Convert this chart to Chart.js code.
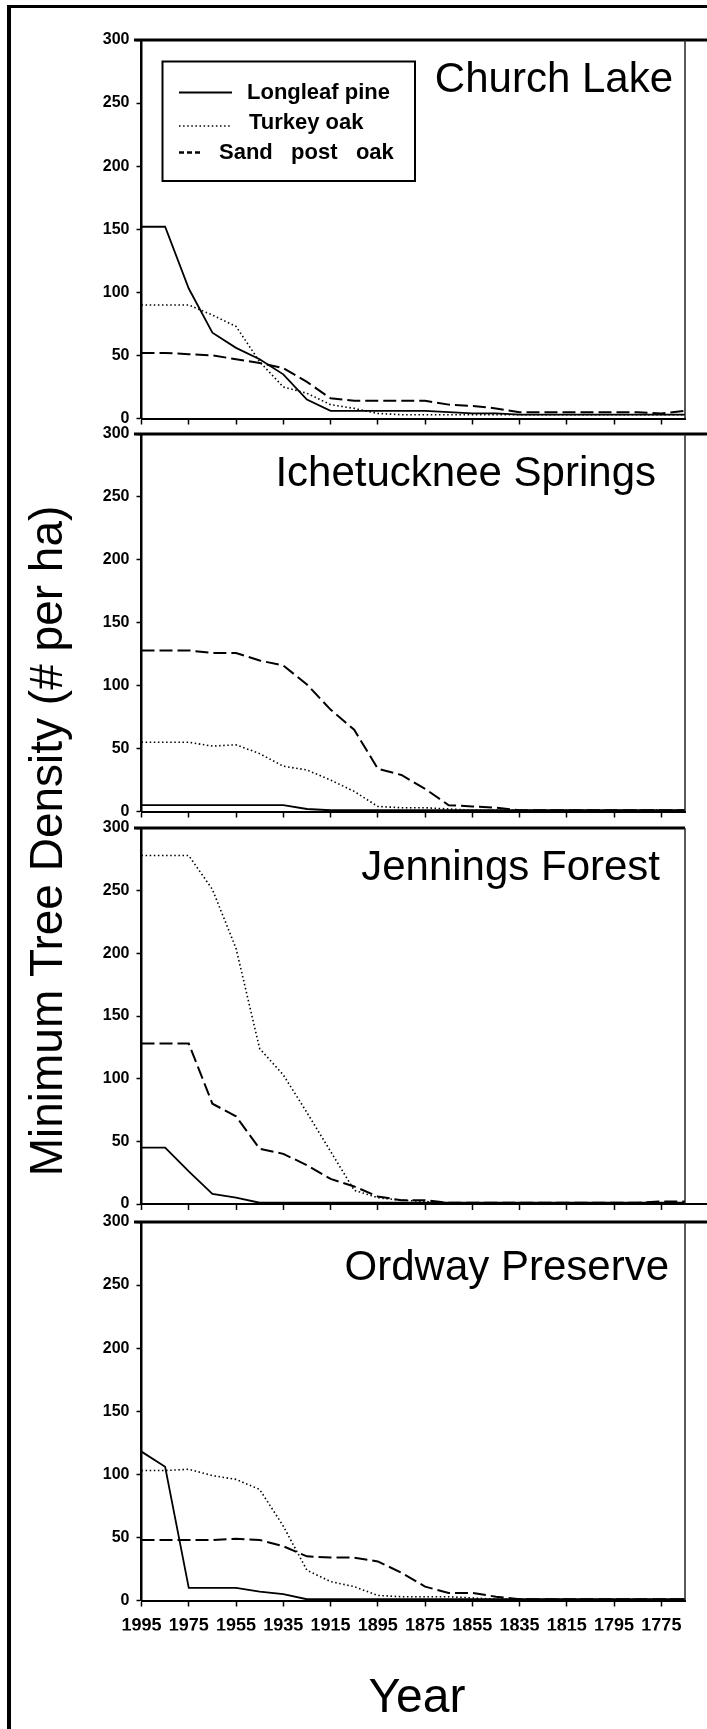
<!DOCTYPE html>
<html>
<head>
<meta charset="utf-8">
<script src="https://cdn.jsdelivr.net/npm/chart.js@4.4.0/dist/chart.umd.min.js"></script>
<style>
html,body{margin:0;padding:0;background:#fff;}
#page{position:relative;width:707px;height:1729px;overflow:hidden;background:#fff;}
#page canvas{position:absolute;left:0;top:0;}
#frameL{position:absolute;left:7px;top:5px;width:3.5px;height:1724px;background:#000;}
#frameT{position:absolute;left:7px;top:5px;width:700px;height:3px;background:#000;}
</style>
</head>
<body>
<div id="page">
<div id="frameL"></div><div id="frameT"></div>
<canvas id="c0" width="707" height="1729"></canvas>
<canvas id="c1" width="707" height="1729"></canvas>
<canvas id="c2" width="707" height="1729"></canvas>
<canvas id="c3" width="707" height="1729"></canvas>
</div>
<script>
// ---- DATA ----
const years = ['1995','1985','1975','1965','1955','1945','1935','1925','1915','1905','1895','1885',
               '1875','1865','1855','1845','1835','1825','1815','1805','1795','1785','1775','1765'];
const xTickLabels = ['1995','1975','1955','1935','1915','1895','1875','1855','1835','1815','1795','1775'];
const yTicks = [0,50,100,150,200,250,300];
const seriesNames = ['Longleaf pine','Turkey oak','Sand post oak'];
const siteNames = ['Church Lake','Ichetucknee Springs','Jennings Forest','Ordway Preserve'];

const churchLongleaf = [152,152,103,68,56,47,35,15,6,6,6,6,6,5,4,4,3,3,3,3,3,3,3,3];
const churchTurkey   = [90,90,90,82,73,45,25,20,11,8,4,3,3,3,3,3,3,3,3,3,3,3,3,3];
const churchSand     = [52,52,51,50,47,44,40,29,16,14,14,14,14,11,10,8,5,5,5,5,5,5,4,6];

const ichLongleaf = [5,5,5,5,5,5,5,2,1,1,1,1,1,1,1,1,1,1,1,1,1,1,1,1];
const ichTurkey   = [55,55,55,52,53,46,36,33,25,16,4,3,3,2,1,1,1,1,1,1,1,1,1,1];
const ichSand     = [128,128,128,126,126,120,116,101,81,65,34,29,18,5,4,3,1,1,1,1,1,1,1,1];

const jenLongleaf = [45,45,26,8,5,1,1,1,1,1,1,1,1,1,1,1,1,1,1,1,1,1,1,1];
const jenTurkey   = [278,278,278,251,204,124,103,73,42,11,5,3,2,1,1,1,1,1,1,1,1,1,1,1];
const jenSand     = [128,128,128,80,70,44,40,31,20,14,6,3,3,1,1,1,1,1,1,1,1,1,2,2];

const ordLongleaf = [118,106,10,10,10,7,5,1,1,1,1,1,1,1,1,1,1,1,1,1,1,1,1,1];
const ordTurkey   = [103,103,104,99,96,88,59,24,15,11,4,3,3,3,2,1,1,1,1,1,1,1,1,1];
const ordSand     = [48,48,48,48,49,48,43,35,34,34,31,22,11,6,6,3,1,1,1,1,1,1,1,1];

const siteData = [
  [churchLongleaf, churchTurkey, churchSand],
  [ichLongleaf, ichTurkey, ichSand],
  [jenLongleaf, jenTurkey, jenSand],
  [ordLongleaf, ordTurkey, ordSand]
];

// ---- LAYOUT ----
const W = 707, H = 1729;
const FONT = "'Liberation Sans', Arial, Helvetica, sans-serif";
const panels = [
  {top:40,  bottom:418.5,  titleRight:673, titleBase:92,   topExtRight:707, bottomExt:false, labels:false},
  {top:434, bottom:811.5,  titleRight:656, titleBase:486,  topExtRight:707, bottomExt:false, labels:false},
  {top:828, bottom:1204,   titleRight:660, titleBase:880,  topExtRight:685, bottomExt:true,  labels:false},
  {top:1222,bottom:1600.5, titleRight:669, titleBase:1280, topExtRight:707, bottomExt:false, labels:true}
];
const styles = [
  {borderWidth:1.8, borderDash:[]},
  {borderWidth:1.6, borderDash:[1.5,2.6]},
  {borderWidth:2,   borderDash:[13,5]}
];

function framePlugin(pi){
  const P = panels[pi];
  return {
    id:'frame'+pi,
    afterDraw(chart){
      const ctx = chart.ctx, a = chart.chartArea;
      ctx.save();
      ctx.strokeStyle = '#000';
      ctx.setLineDash([]);
      ctx.lineWidth = 3;
      ctx.beginPath(); ctx.moveTo(134, a.top); ctx.lineTo(P.topExtRight, a.top); ctx.stroke();
      ctx.lineWidth = 1.5; ctx.strokeStyle = '#222';
      ctx.beginPath(); ctx.moveTo(a.right, a.top); ctx.lineTo(a.right, a.bottom); ctx.stroke();
      if (P.bottomExt){
        ctx.strokeStyle = '#000'; ctx.lineWidth = 2;
        ctx.beginPath(); ctx.moveTo(a.right, a.bottom); ctx.lineTo(W, a.bottom); ctx.stroke();
      }
      ctx.fillStyle = '#000';
      ctx.font = '42px ' + FONT;
      ctx.textAlign = 'right'; ctx.textBaseline = 'alphabetic';
      ctx.fillText(siteNames[pi], P.titleRight, P.titleBase);

      if (pi === 0){
        ctx.strokeStyle = '#000'; ctx.lineWidth = 2;
        ctx.strokeRect(162.5, 61.5, 252.5, 119.5);
        const rows = [
          {y:92.5, x1:179, x2:232, tx:247, tb:99},
          {y:126,  x1:179, x2:230, tx:249, tb:128.5},
          {y:152.5,x1:179, x2:200, tx:219, tb:158.5}
        ];
        const legDash = [[],[1.5,2.6],[5,3]];
        const legW = [2,1.5,2.5];
        const legText = ['Longleaf pine','Turkey oak','Sand   post   oak'];
        rows.forEach((r,i)=>{
          ctx.setLineDash(legDash[i]); ctx.lineWidth = legW[i];
          ctx.beginPath(); ctx.moveTo(r.x1, r.y); ctx.lineTo(r.x2, r.y); ctx.stroke();
          ctx.setLineDash([]);
          ctx.font = 'bold 22px ' + FONT; ctx.textAlign = 'left';
          ctx.fillText(legText[i], r.tx, r.tb);
        });
      }
      if (pi === 3){
        ctx.font = '48px ' + FONT;
        ctx.textAlign = 'center'; ctx.textBaseline = 'alphabetic';
        ctx.fillText('Year', 417, 1712);
        ctx.save();
        ctx.translate(62, 841);
        ctx.rotate(-Math.PI/2);
        ctx.font = '46px ' + FONT;
        ctx.fillText('Minimum Tree Density (# per ha)', 0, 0);
        ctx.restore();
      }
      ctx.restore();
    }
  };
}

panels.forEach((P, pi)=>{
  const datasets = seriesNames.map((name, si)=>({
    label: name,
    data: siteData[pi][si],
    borderColor:'#000',
    backgroundColor:'#000',
    borderWidth: styles[si].borderWidth,
    borderDash: styles[si].borderDash,
    pointRadius:0,
    tension:0,
    fill:false
  }));
  new Chart(document.getElementById('c'+pi), {
    type:'line',
    data:{labels:years, datasets},
    options:{
      responsive:false,
      animation:false,
      devicePixelRatio:1,
      layout:{padding:{left:0, right:22, top:P.top, bottom:H - P.bottom - 30}},
      plugins:{legend:{display:false}, tooltip:{enabled:false}, title:{display:false}},
      scales:{
        x:{
          type:'category', offset:false,
          afterFit:(s)=>{ s.height = 30; },
          grid:{drawOnChartArea:false, drawTicks:true, tickLength:6, tickWidth:1.5,
                tickColor:(c)=> xTickLabels.includes(years[c.index]) ? '#000' : 'rgba(0,0,0,0)'},
          border:{display:true, color:'#000', width:2},
          ticks:{display:P.labels, autoSkip:false, maxRotation:0, minRotation:0, color:'#000',
                 font:{family:FONT, size:18, weight:'bold'}, padding:9,
                 callback:(v,i)=> xTickLabels.includes(years[i]) ? years[i] : ''}
        },
        y:{
          min:0, max:300,
          afterFit:(s)=>{ s.width = 141.5; },
          afterBuildTicks:(s)=>{ s.ticks = yTicks.map(v=>({value:v})); },
          ticks:{color:'#000', font:{family:FONT, size:16, weight:'bold'}, padding:7},
          grid:{drawOnChartArea:false, drawTicks:true, tickLength:5, tickWidth:1.5, tickColor:'#000'},
          border:{display:true, color:'#000', width:2.5}
        }
      }
    },
    plugins:[framePlugin(pi)]
  });
});
</script>
</body>
</html>
